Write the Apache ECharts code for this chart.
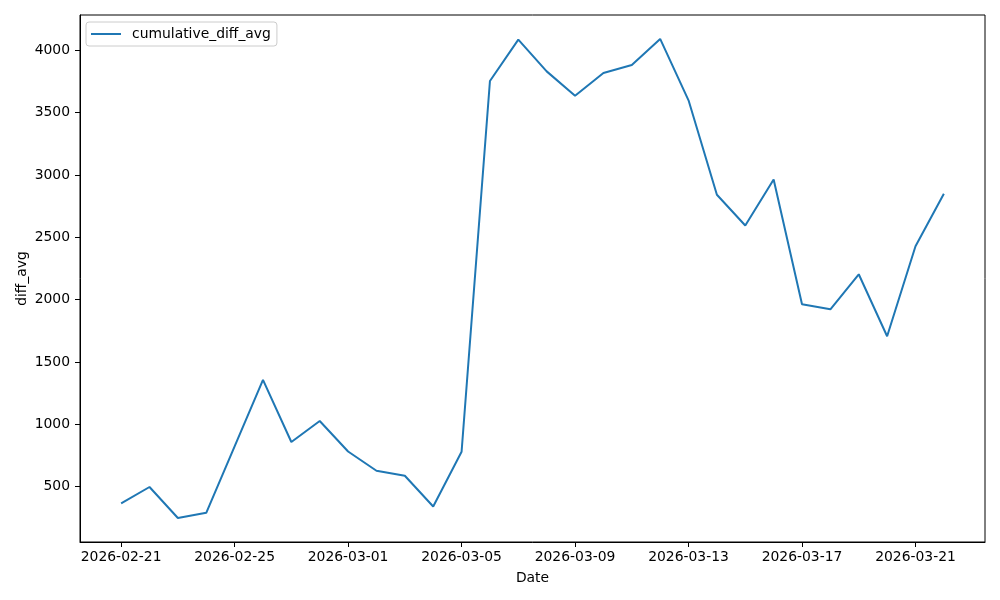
<!DOCTYPE html>
<html>
<head>
<meta charset="utf-8">
<script src="https://cdn.jsdelivr.net/npm/echarts@6/dist/echarts.min.js"></script>
<style>html,body{margin:0;padding:0;background:#fff}#c{width:1000px;height:600px}</style>
</head>
<body>
<div id="c"></div>
<script>
const dates = ["2026-02-21","2026-02-22","2026-02-23","2026-02-24","2026-02-25","2026-02-26","2026-02-27","2026-02-28","2026-03-01","2026-03-02","2026-03-03","2026-03-04","2026-03-05","2026-03-06","2026-03-07","2026-03-08","2026-03-09","2026-03-10","2026-03-11","2026-03-12","2026-03-13","2026-03-14","2026-03-15","2026-03-16","2026-03-17","2026-03-18","2026-03-19","2026-03-20","2026-03-21","2026-03-22"];
const cumulativeDiffAvg = [366,498,249,291,823,1357,859,1027,783,628,588,342,781,3754,4086,3831,3636,3818,3882,4091,3599,2842,2595,2964,1963,1923,2204,1707,2429,2850];
const xTickLabels = ["2026-02-21","2026-02-25","2026-03-01","2026-03-05","2026-03-09","2026-03-13","2026-03-17","2026-03-21"];
const yTicks = [500,1000,1500,2000,2500,3000,3500,4000];

const DAY = 86400000;
const t0 = Date.parse(dates[0] + "T00:00:00Z");
const dayIdx = s => Math.round((Date.parse(s + "T00:00:00Z") - t0) / DAY);
const idxToDate = i => new Date(t0 + i * DAY).toISOString().slice(0, 10);
const data = dates.map((d, i) => [dayIdx(d), cumulativeDiffAvg[i]]);
const n = dayIdx(dates[dates.length - 1]);
const xPad = n * 0.05;
const yMinV = Math.min(...cumulativeDiffAvg), yMaxV = Math.max(...cumulativeDiffAvg);
const yPad = (yMaxV - yMinV) * 0.05;

const font = "DejaVu Sans";
const fs = 13.9;
const chart = echarts.init(document.getElementById('c'), null, {renderer: 'canvas'});
chart.setOption({
  animation: false,
  backgroundColor: '#fff',
  textStyle: {fontFamily: font},
  grid: {left: 80, right: 15, top: 15, bottom: 58, show: true, borderColor: '#000', borderWidth: 1, backgroundColor: 'transparent'},
  legend: {
    show: true, left: 86, top: 22, orient: 'vertical',
    padding: [4, 6, 4, 5], itemWidth: 30, itemHeight: 2, itemGap: 0,
    icon: 'path://M0,0 H30 V2 H0 Z',
    borderColor: '#cccccc', borderWidth: 1, borderRadius: 3, backgroundColor: 'rgba(255,255,255,0.8)',
    textStyle: {fontFamily: font, fontSize: fs, color: '#000', padding: [0, 0, 0, 6], lineHeight: 16},
    data: [{name: 'cumulative_diff_avg'}]
  },
  xAxis: {
    type: 'value', min: -xPad, max: n + xPad,
    name: 'Date', nameLocation: 'middle', nameGap: 29, nameMoveOverlap: false,
    nameTextStyle: {fontFamily: font, fontSize: fs, color: '#000'},
    axisLine: {show: true, onZero: false, lineStyle: {color: '#000', width: 1}},
    axisTick: {show: true, length: 5, lineStyle: {color: '#000'}, customValues: xTickLabels.map(dayIdx)},
    axisLabel: {show: true, fontFamily: font, fontSize: fs, color: '#000', margin: 8,
      customValues: xTickLabels.map(dayIdx), formatter: v => idxToDate(v)},
    splitLine: {show: false}
  },
  yAxis: {
    type: 'value', min: yMinV - yPad, max: yMaxV + yPad,
    name: 'diff_avg', nameLocation: 'middle', nameGap: 51, nameRotate: 90, nameMoveOverlap: false,
    nameTextStyle: {fontFamily: font, fontSize: fs, color: '#000'},
    axisLine: {show: true, onZero: false, lineStyle: {color: '#000', width: 1}},
    axisTick: {show: true, length: 5, lineStyle: {color: '#000'}, customValues: yTicks},
    axisLabel: {show: true, fontFamily: font, fontSize: fs, color: '#000', margin: 10,
      customValues: yTicks, formatter: v => String(v)},
    splitLine: {show: false}
  },
  series: [{
    name: 'cumulative_diff_avg', type: 'line', data: data,
    symbol: 'none', lineStyle: {color: '#1f77b4', width: 2}, itemStyle: {color: '#1f77b4'}
  }]
});
</script>
</body>
</html>
